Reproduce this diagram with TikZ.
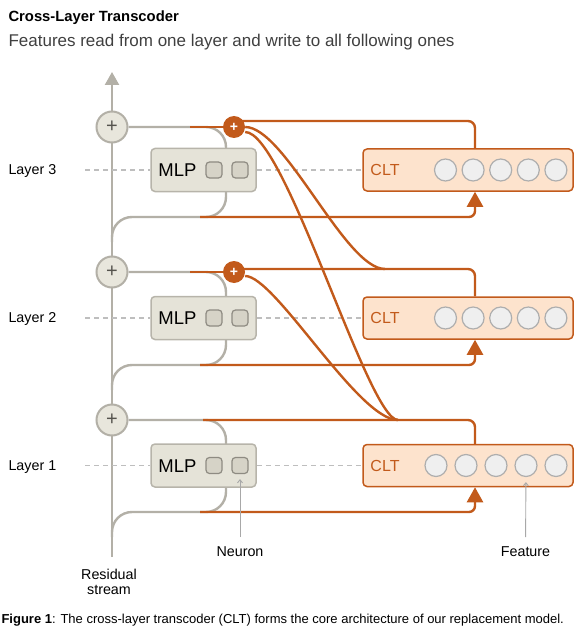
\documentclass[tikz,border=0pt]{standalone}
\usepackage{fontspec}
\setmainfont{Liberation Sans}
\usetikzlibrary{arrows.meta,backgrounds}

\definecolor{rsgray}{HTML}{B3B0A7}
\definecolor{plusfill}{HTML}{E8E6DC}
\definecolor{plusdark}{HTML}{55534D}
\definecolor{mlpfill}{HTML}{E5E3D8}
\definecolor{mlpedge}{HTML}{B7B4AA}
\definecolor{sqfill}{HTML}{D6D3C7}
\definecolor{sqedge}{HTML}{8E8B82}
\definecolor{cltorange}{HTML}{C25A1B}
\definecolor{cltfill}{HTML}{FDE3CD}
\definecolor{featfill}{HTML}{EFEFEF}
\definecolor{featedge}{HTML}{AEAEAE}
\definecolor{dashgray}{HTML}{BEBEBE}
\definecolor{ptgray}{HTML}{A8A8A8}
\definecolor{subgray}{HTML}{404040}

\begin{document}
\begin{tikzpicture}[x=1pt,y=-1pt,
    rs/.style={draw=rsgray,line width=2.4pt},
    ow/.style={draw=cltorange,line width=2.4pt},
    resplus/.style={circle,draw=rsgray,fill=plusfill,line width=2pt,minimum size=31pt,inner sep=0pt,text=plusdark,font=\fontsize{20}{20}\selectfont},
    addplus/.style={circle,fill=cltorange,minimum size=22pt,inner sep=0pt,text=white,font=\fontsize{14}{14}\selectfont\bfseries},
    mlpbox/.style={draw=mlpedge,fill=mlpfill,line width=1.5pt,rounded corners=4pt,minimum width=105pt,minimum height=43pt},
    neuron/.style={draw=sqedge,fill=sqfill,line width=1.2pt,rounded corners=3.5pt,minimum size=16pt,inner sep=0pt},
    cltbox/.style={draw=cltorange,fill=cltfill,line width=1.5pt,rounded corners=4pt,minimum width=210pt,minimum height=42pt},
    feature/.style={circle,draw=featedge,fill=featfill,line width=1.2pt,minimum size=22pt,inner sep=0pt},
    dashline/.style={draw=dashgray,line width=1.2pt,dash pattern=on 5pt off 4pt},
    pointer/.style={draw=ptgray,line width=0.9pt,-{Straight Barb[length=3pt,width=5pt]},shorten >=5pt,shorten <=6pt},
    lab/.style={font=\fontsize{14.3}{15.5}\selectfont},
]
\useasboundingbox (0,0) rectangle (579,631);

\node[anchor=base west,font=\fontsize{14.8}{16}\selectfont\bfseries] (title) at (5,21.5) {Cross-Layer Transcoder};
\node[anchor=base west,text=subgray,font=\fontsize{17}{19}\selectfont] (subtitle) at (5,46.5) {Features read from one layer and write to all following ones};

% one row per layer
\foreach \n/\c/\p/\r/\fs/\fd in {1/465.5/420/512/436/30, 2/318/272/365/445.5/27.6, 3/170/127/217/445.5/27.6}{
    \node[anchor=base west,lab] (lay\n) at (5,\c+4.8) {Layer \n};
    \node[resplus] (res\n) at (112,\p) {+};
    \node[mlpbox] (mlp\n) at (203.5,\c) {};
    \node[anchor=base,font=\fontsize{18.5}{20}\selectfont] (mlptxt\n) at (177.5,\c+6.6) {MLP};
    \node[neuron] (na\n) at (214,\c) {};
    \node[neuron] (nb\n) at (240,\c) {};
    \node[cltbox] (clt\n) at (468,\c) {};
    \node[anchor=base,text=cltorange,font=\fontsize{16}{18}\selectfont] (clttxt\n) at (385,\c+5.7) {CLT};
    \foreach \i in {1,...,5}
        \node[feature] (f\n\i) at ({\fs+\fd*(\i-1)},\c) {};
    \coordinate (in\n) at ([xshift=7pt]clt\n.south);
    \coordinate (out\n) at ([xshift=7pt]clt\n.north);
    \coordinate (rd\n) at (200,\r);
    \coordinate (lp\n) at (112,\r+25);
    \coordinate (dl\n) at (85,\c);
}

% orange adders
\node[addplus] (add3) at (234,127) {+};
\node[addplus] (add2) at (234,272) {+};

\coordinate (wr1) at (203,420);
\coordinate (wr2) at (190,272);
\coordinate (wr3) at (190,127);
\coordinate (j2) at (385,269);
\coordinate (j1) at (398,420);
\coordinate (rsin) at (112,557);
\coordinate (rsout) at (112,72);

\node[anchor=base,lab] (neuronlab) at (240,556.5) {Neuron};
\node[anchor=base,lab] (featurelab) at (525.5,556.5) {Feature};
\node[align=center,lab] (reslab) at (109,582) {Residual\\stream};
\node[anchor=base west,font=\fontsize{13}{15}\selectfont] (caption) at (-2,623) {\textbf{Figure 1}: The cross-layer transcoder (CLT) forms the core architecture of our replacement model.};

\draw[pointer] (neuronlab) -- (nb1);
\draw[pointer] (featurelab) -- (f14);

\begin{pgfonlayer}{background}
    \draw[rs,-{Triangle[width=14pt,length=13pt]}] (rsin) -- (rsout);
    \foreach \n/\c/\p/\r in {1/465.5/420/512, 2/318/272/365, 3/170/127/217}{
        \draw[rs,rounded corners=20pt] (res\n) -- (226,\p) -- (226,\r) -- (112,\r) -- (lp\n);
        \draw[dashline] (dl\n) -- (mlp\n.west);
        \draw[dashline] (mlp\n.east) -- (clt\n.west);
        \draw[ow,rounded corners=6pt,-{Triangle[width=16pt,length=15pt]}] (rd\n) -| (in\n);
    }
    \draw[ow,rounded corners=7pt] (wr1) -| (out1);
    \draw[ow] (wr2) -- (add2);
    \draw[ow] (wr3) -- (add3);
    \draw[ow,rounded corners=7pt] ([yshift=3pt]add2.center) -| (out2);
    \draw[ow,rounded corners=7pt] ([yshift=6pt]add3.center) -| (out3);
    \draw[ow] (add3.east) .. controls +(40,0) and +(-40,0) .. (j2);
    \draw[ow] ([yshift=-5pt]add3.east) .. controls +(40,0) and +(-30,0) .. (j1);
    \draw[ow] ([yshift=-4pt]add2.east) .. controls +(30,0) and +(-40,0) .. (j1);
\end{pgfonlayer}
\end{tikzpicture}
\end{document}
